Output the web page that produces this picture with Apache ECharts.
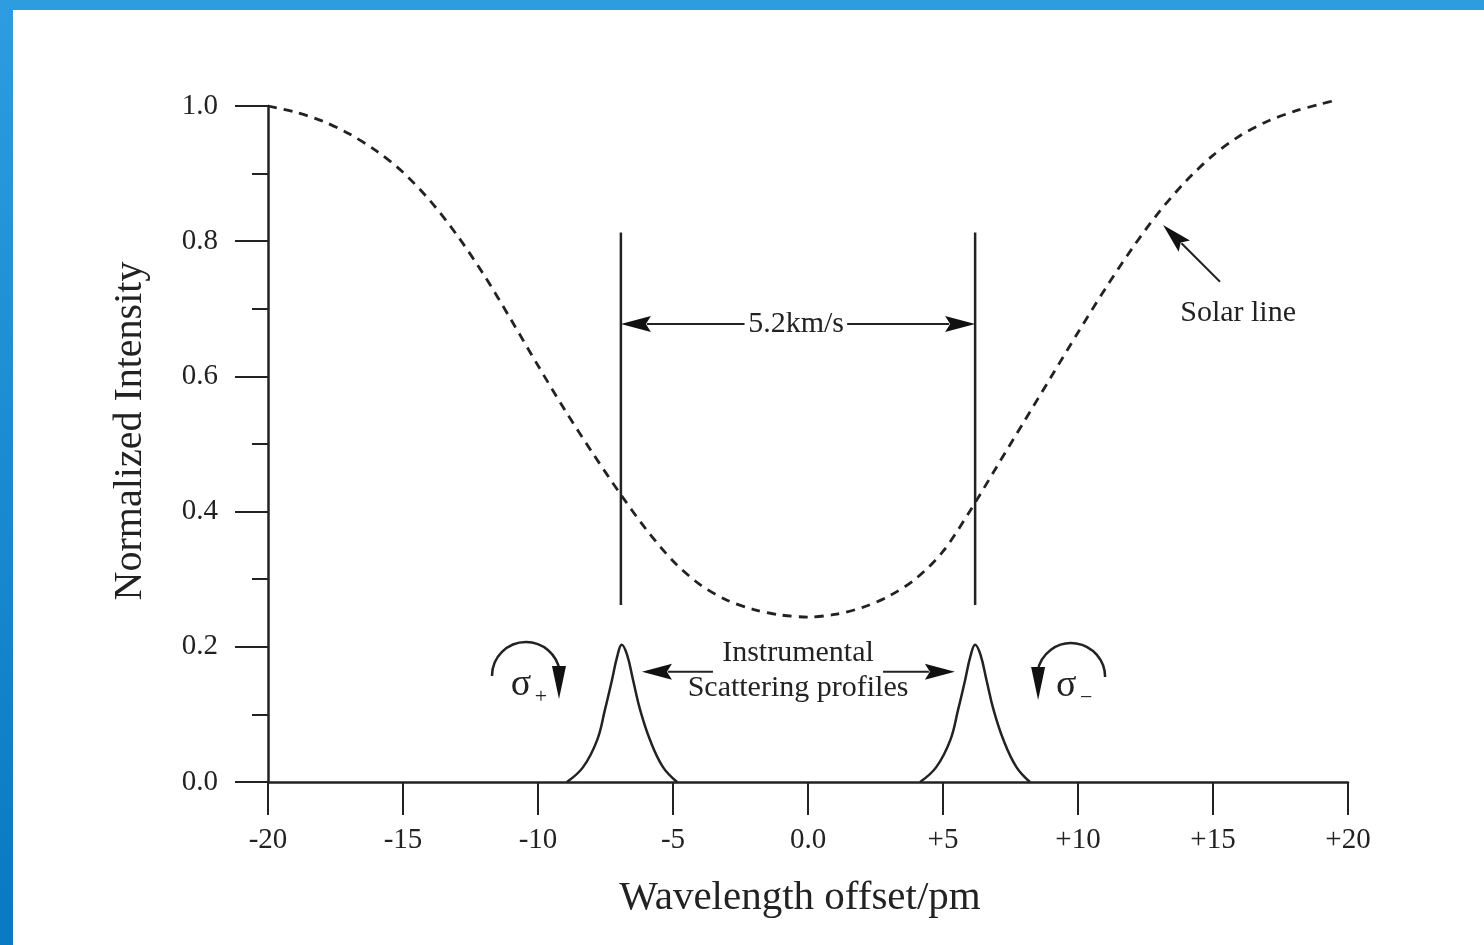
<!DOCTYPE html>
<html>
<head>
<meta charset="utf-8">
<script src="https://cdn.jsdelivr.net/npm/echarts@6/dist/echarts.min.js"></script>
<style>
  html, body { margin: 0; padding: 0; background: #fff; }
  #chart { position: absolute; left: 0; top: 0; width: 1484px; height: 945px; }
  #bandTop { position: absolute; left: 0; top: 0; width: 1484px; height: 10px; background: #2d9de0; }
  #bandLeft { position: absolute; left: 0; top: 0; width: 13px; height: 945px; background: linear-gradient(#2d9de0, #0879c2); }
</style>
</head>
<body>
<div id="chart"></div>
<div id="bandTop"></div>
<div id="bandLeft"></div>
<script>
// solar absorption line (dashed)
const solarX = [-20, -19, -18, -17, -16, -15, -14, -13, -12, -11, -10, -9, -8, -7, -6, -5, -4, -3, -2, -1,
  0, 1, 2, 3, 4, 5, 6, 7, 8, 9, 10, 11, 12, 13, 14, 15, 16, 17, 18, 19, 19.6];
const solarY = [1.0, 0.991, 0.978, 0.959, 0.934, 0.902, 0.86, 0.809, 0.75, 0.684, 0.616, 0.55, 0.488, 0.429, 0.374, 0.327, 0.292, 0.269, 0.255, 0.247,
  0.244, 0.248, 0.258, 0.275, 0.301, 0.341, 0.401, 0.467, 0.533, 0.599, 0.665, 0.729, 0.789, 0.843, 0.889, 0.927, 0.956, 0.977, 0.992, 1.003, 1.009];

// instrumental scattering profiles
const profileY = [0, 0.022, 0.062, 0.107, 0.151, 0.185, 0.203, 0.188, 0.151, 0.107, 0.062, 0.022, 0];
const sigmaPlusX = [-8.93, -8.33, -7.81, -7.52, -7.26, -7.07, -6.9, -6.7, -6.48, -6.22, -5.85, -5.37, -4.85];
const sigmaMinusX = [4.15, 4.75, 5.27, 5.56, 5.82, 6.01, 6.19, 6.39, 6.61, 6.87, 7.24, 7.72, 8.22];

// markers: vertical lines [x, yFrom, yTo]
const markerLines = [[-6.93, 0.262, 0.813], [6.19, 0.262, 0.813]];
// arrows [xFrom, yFrom, xTo, yTo], head at "to"
const arrows = [
  [-2.35, 0.6775, -6.93, 0.6775],
  [1.45, 0.6775, 6.19, 0.6775],
  [-3.52, 0.163, -6.15, 0.163],
  [2.78, 0.163, 5.44, 0.163],
  [15.26, 0.74, 13.15, 0.824]
];
// text notes [x, y, text]
const notes = [
  [-0.44, 0.6775, '5.2km/s'],
  [-0.37, 0.191, 'Instrumental'],
  [-0.37, 0.139, 'Scattering profiles'],
  [15.93, 0.694, 'Solar line']
];
// polarisation symbols [x, y, direction(1 = clockwise), subscript]
const sigmas = [[-10.63, 0.1435, 1, '+'], [9.56, 0.142, -1, '\u2212']];

const xTickLabels = ['-20', '-15', '-10', '-5', '0.0', '+5', '+10', '+15', '+20'];
const yTickLabels = ['0.0', '0.2', '0.4', '0.6', '0.8', '1.0'];

const INK = '#222';
const FONT = '"Liberation Serif", "DejaVu Serif", serif';

const zip = (xs, ys) => xs.map((x, i) => [x, ys[i]]);

const chart = echarts.init(document.getElementById('chart'), null, { renderer: 'canvas' });

const option = {
  animation: false,
  backgroundColor: 'transparent',
  grid: { left: 268, right: 136, top: 106, bottom: 163 },
  xAxis: {
    type: 'value',
    min: -20,
    max: 20,
    interval: 5,
    name: 'Wavelength offset/pm',
    nameLocation: 'middle',
    nameGap: 96,
    nameTextStyle: { fontSize: 41, fontFamily: FONT, color: INK, padding: [0, 16, 0, 0] },
    axisLine: { show: true, onZero: false, lineStyle: { color: INK, width: 2.5 } },
    axisTick: { show: true, length: 33, lineStyle: { color: INK, width: 2 } },
    axisLabel: {
      fontSize: 29, fontFamily: FONT, color: INK, margin: 44,
      formatter: (v) => xTickLabels[Math.round((v + 20) / 5)]
    },
    splitLine: { show: false }
  },
  yAxis: {
    type: 'value',
    min: 0,
    max: 1,
    interval: 0.2,
    name: 'Normalized Intensity',
    nameLocation: 'middle',
    nameRotate: 90,
    nameGap: 118,
    nameTextStyle: { fontSize: 40, fontFamily: FONT, color: INK, padding: [0, 0, 0, 26] },
    axisLine: { show: true, onZero: false, lineStyle: { color: INK, width: 2.5 } },
    axisTick: { show: true, length: 33, lineStyle: { color: INK, width: 2 } },
    minorTick: { show: true, splitNumber: 2, length: 16, lineStyle: { color: INK, width: 2 } },
    axisLabel: {
      fontSize: 29, fontFamily: FONT, color: INK, margin: 50,
      formatter: (v) => yTickLabels[Math.round(v * 5)]
    },
    splitLine: { show: false },
    minorSplitLine: { show: false }
  },
  series: [
    {
      name: 'Solar line',
      type: 'line',
      data: zip(solarX, solarY),
      smooth: 0.3,
      showSymbol: false,
      clip: false,
      lineStyle: { color: INK, width: 2.8, type: [9, 7] }
    },
    {
      name: 'sigma+',
      type: 'line',
      data: zip(sigmaPlusX, profileY),
      smooth: 0.4,
      showSymbol: false,
      lineStyle: { color: INK, width: 2.5 }
    },
    {
      name: 'sigma-',
      type: 'line',
      data: zip(sigmaMinusX, profileY),
      smooth: 0.4,
      showSymbol: false,
      lineStyle: { color: INK, width: 2.5 }
    },
    {
      name: 'markers',
      type: 'custom',
      data: markerLines,
      clip: false,
      renderItem: (params, api) => {
        const a = api.coord([api.value(0), api.value(1)]);
        const b = api.coord([api.value(0), api.value(2)]);
        return {
          type: 'line',
          shape: { x1: a[0], y1: a[1], x2: b[0], y2: b[1] },
          style: { stroke: INK, lineWidth: 2.5 }
        };
      }
    },
    {
      name: 'arrows',
      type: 'custom',
      data: arrows,
      clip: false,
      renderItem: (params, api) => {
        const a = api.coord([api.value(0), api.value(1)]);
        const b = api.coord([api.value(2), api.value(3)]);
        const dx = b[0] - a[0], dy = b[1] - a[1];
        const len = Math.sqrt(dx * dx + dy * dy);
        const ux = dx / len, uy = dy / len;
        const headL = 30, headW = 8;
        const bx = b[0] - ux * headL, by = b[1] - uy * headL;
        return {
          type: 'group',
          children: [
            { type: 'line', shape: { x1: a[0], y1: a[1], x2: bx + ux * 4, y2: by + uy * 4 }, style: { stroke: INK, lineWidth: 2 } },
            {
              type: 'polygon',
              shape: { points: [[b[0], b[1]], [bx - uy * headW, by + ux * headW], [bx + ux * 5, by + uy * 5], [bx + uy * headW, by - ux * headW]] },
              style: { fill: '#111' }
            }
          ]
        };
      }
    },
    {
      name: 'notes',
      type: 'custom',
      data: notes,
      clip: false,
      renderItem: (params, api) => {
        const p = api.coord([api.value(0), api.value(1)]);
        return {
          type: 'text',
          style: {
            text: notes[params.dataIndex][2],
            x: p[0], y: p[1],
            align: 'center', verticalAlign: 'middle',
            fontSize: 30, fontFamily: FONT, fill: INK
          }
        };
      }
    },
    {
      name: 'sigmas',
      type: 'custom',
      data: sigmas,
      clip: false,
      renderItem: (params, api) => {
        const p = api.coord([api.value(0), api.value(1)]);
        const cw = api.value(2) > 0;
        const sub = sigmas[params.dataIndex][3];
        const cx = p[0] + 5, cy = p[1] - 9, r = 34;
        const ax = cw ? cx + r - 1 : cx - r + 1;
        return {
          type: 'group',
          children: [
            {
              type: 'arc',
              shape: { cx: cx, cy: cy, r: r, startAngle: cw ? Math.PI : Math.PI + 0.15, endAngle: cw ? Math.PI * 2 - 0.15 : Math.PI * 2, clockwise: true },
              style: { stroke: INK, lineWidth: 2.5, fill: null }
            },
            {
              type: 'polygon',
              shape: { points: [[ax - 7, cy - 10], [ax + 7, cy - 10], [ax, cy + 23]] },
              style: { fill: '#111' }
            },
            {
              type: 'text',
              style: { text: '\u03c3', x: p[0], y: p[1], align: 'center', verticalAlign: 'middle', fontSize: 38, fontFamily: FONT, fill: INK }
            },
            {
              type: 'text',
              style: { text: sub, x: p[0] + 20, y: p[1] + 12, align: 'center', verticalAlign: 'middle', fontSize: 22, fontFamily: FONT, fill: INK }
            }
          ]
        };
      }
    }
  ]
};

chart.setOption(option);
window.addEventListener('resize', () => chart.resize());
</script>
</body>
</html>
